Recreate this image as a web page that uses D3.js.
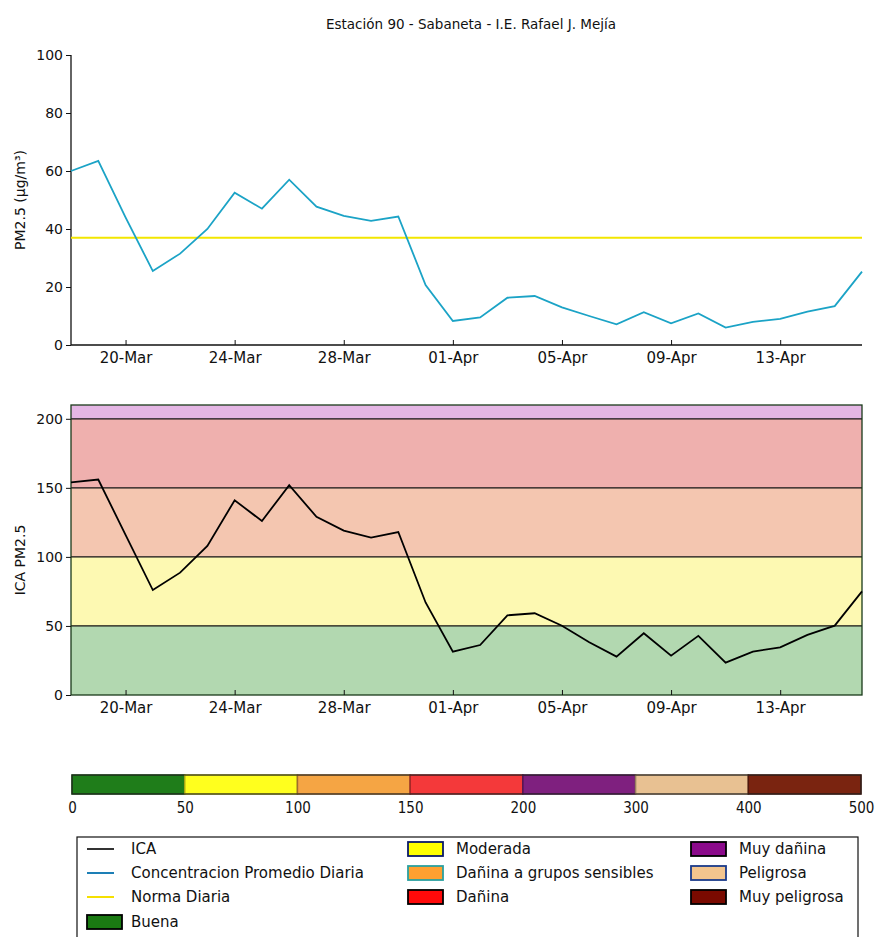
<!DOCTYPE html>
<html>
<head>
<meta charset="utf-8">
<script src="https://cdn.jsdelivr.net/npm/d3@7"></script>
<style>
  body { margin: 0; background: #fff; }
  svg text { font-family: "DejaVu Sans", sans-serif; fill: #111; }
</style>
</head>
<body>
<div id="chart"></div>
<script>
// data
var days = ["2020-03-18","2020-03-19","2020-03-20","2020-03-21","2020-03-22","2020-03-23","2020-03-24",
            "2020-03-25","2020-03-26","2020-03-27","2020-03-28","2020-03-29","2020-03-30","2020-03-31",
            "2020-04-01","2020-04-02","2020-04-03","2020-04-04","2020-04-05","2020-04-06","2020-04-07",
            "2020-04-08","2020-04-09","2020-04-10","2020-04-11","2020-04-12","2020-04-13","2020-04-14",
            "2020-04-15","2020-04-16"];
var pm25 = [60, 63.5, 44, 25.5, 31.5, 40, 52.5, 47, 57, 47.7, 44.5, 42.8, 44.3, 20.7,
            8.3, 9.5, 16.3, 16.9, 13, 10, 7.1, 11.3, 7.5, 10.9, 6, 8, 9, 11.5, 13.4, 25.3];
var ica = [154, 156, 116, 76, 88.6, 108, 141, 126, 152, 129, 119, 114, 118, 67,
           31.4, 36.2, 57.7, 59.2, 50.2, 38.2, 27.8, 44.7, 28.5, 42.8, 23.4, 31.4, 34.5, 43.5, 50.2, 75];
var normaDiaria = 37;
var xTickDays = ["2020-03-20","2020-03-24","2020-03-28","2020-04-01","2020-04-05","2020-04-09","2020-04-13"];
var pmTicks = [0, 20, 40, 60, 80, 100];
var icaTicks = [0, 50, 100, 150, 200];

var bandLimits = [0, 50, 100, 150, 200, 210];
var bandColors = ["#b2d8b0", "#fdf9b2", "#f4c6b0", "#efb0ae", "#e4b6e4"];

var scaleLimits = [0, 50, 100, 150, 200, 300, 400, 500];
var scaleColors = ["#1f7d1a", "#ffff1e", "#f5a544", "#f4393a", "#7f207f", "#e8c192", "#7a2410"];

var legendLines = [
  {label: "ICA", color: "#333"},
  {label: "Concentracion Promedio Diaria", color: "#1d7fb6"},
  {label: "Norma Diaria", color: "#f5e000"}
];
var legendPatches = [
  {label: "Buena", color: "#1a7a12", edge: "#000"},
  {label: "Moderada", color: "#ffff00", edge: "#0a1a6a"},
  {label: "Dañina a grupos sensibles", color: "#ffa030", edge: "#2aa0a0"},
  {label: "Dañina", color: "#ff0a0a", edge: "#000"},
  {label: "Muy dañina", color: "#8b0a8b", edge: "#000"},
  {label: "Peligrosa", color: "#f3c58e", edge: "#1a3a8a"},
  {label: "Muy peligrosa", color: "#7a0a00", edge: "#000"}
];

var width = 878, height = 937;
var svg = d3.select("#chart").append("svg")
    .attr("width", width)
    .attr("height", height);

var parse = d3.timeParse("%Y-%m-%d");
var dates = days.map(parse);

var left = 71, right = 862;
var x = d3.scaleTime().domain(d3.extent(dates)).range([left, right]);
var fmt = d3.timeFormat("%d-%b");

svg.append("text")
    .attr("x", 471).attr("y", 29)
    .attr("text-anchor", "middle")
    .style("font-size", "13.5px")
    .text("Estación 90 - Sabaneta - I.E. Rafael J. Mejía");

function styleAxis(g) {
  g.selectAll("text").style("font-size", "14px").attr("fill", "#111");
  g.selectAll("line").attr("stroke", "#111");
  g.select(".domain").remove();
}

// ---- top panel: concentration
var y1 = d3.scaleLinear().domain([0, 100]).range([345, 55]);

svg.append("g")
    .attr("transform", "translate(" + left + ",0)")
    .call(d3.axisLeft(y1).tickValues(pmTicks).tickSize(5).tickPadding(3))
    .call(styleAxis);
svg.append("g")
    .attr("transform", "translate(0,345)")
    .call(d3.axisBottom(x).tickValues(xTickDays.map(parse)).tickFormat(fmt).tickSizeInner(-5).tickSizeOuter(0).tickPadding(7))
    .call(styleAxis)
    .selectAll("text").style("font-size", "15px");

svg.append("line").attr("x1", left).attr("x2", left).attr("y1", 55).attr("y2", 345)
    .attr("stroke", "#111").attr("stroke-width", 1.3);
svg.append("line").attr("x1", left).attr("x2", right).attr("y1", 345).attr("y2", 345)
    .attr("stroke", "#111").attr("stroke-width", 1.3);

svg.append("line")
    .attr("x1", left).attr("x2", right)
    .attr("y1", y1(normaDiaria)).attr("y2", y1(normaDiaria))
    .attr("stroke", "#f2e600").attr("stroke-width", 2);

svg.append("path")
    .datum(pm25)
    .attr("fill", "none")
    .attr("stroke", "#1ba3c6")
    .attr("stroke-width", 1.8)
    .attr("d", d3.line().x(function(d, i) { return x(dates[i]); }).y(function(d) { return y1(d); }));

svg.append("text")
    .attr("transform", "translate(25,200) rotate(-90)")
    .attr("text-anchor", "middle")
    .style("font-size", "14px")
    .text("PM2.5 (µg/m³)");

// ---- bottom panel: ICA
var y2 = d3.scaleLinear().domain([0, 210]).range([695, 405]);

svg.append("g").selectAll("rect")
    .data(bandColors)
    .enter().append("rect")
    .attr("x", left)
    .attr("width", right - left)
    .attr("y", function(d, i) { return y2(bandLimits[i + 1]); })
    .attr("height", function(d, i) { return y2(bandLimits[i]) - y2(bandLimits[i + 1]); })
    .attr("fill", function(d) { return d; });

svg.append("g").selectAll("line")
    .data(bandLimits.slice(1, 5))
    .enter().append("line")
    .attr("x1", left).attr("x2", right)
    .attr("y1", function(d) { return y2(d); }).attr("y2", function(d) { return y2(d); })
    .attr("stroke", "#111").attr("stroke-width", 1.2);

svg.append("rect")
    .attr("x", left).attr("y", 405).attr("width", right - left).attr("height", 290)
    .attr("fill", "none").attr("stroke", "#1a3a1a").attr("stroke-width", 1.3);

svg.append("path")
    .datum(ica)
    .attr("fill", "none")
    .attr("stroke", "#000")
    .attr("stroke-width", 1.8)
    .attr("d", d3.line().x(function(d, i) { return x(dates[i]); }).y(function(d) { return y2(d); }));

svg.append("g")
    .attr("transform", "translate(" + left + ",0)")
    .call(d3.axisLeft(y2).tickValues(icaTicks).tickSize(5).tickPadding(3))
    .call(styleAxis);
svg.append("g")
    .attr("transform", "translate(0,695)")
    .call(d3.axisBottom(x).tickValues(xTickDays.map(parse)).tickFormat(fmt).tickSizeInner(-5).tickSizeOuter(0).tickPadding(7))
    .call(styleAxis)
    .selectAll("text").style("font-size", "15px");

svg.append("text")
    .attr("transform", "translate(25,560) rotate(-90)")
    .attr("text-anchor", "middle")
    .style("font-size", "14px")
    .text("ICA PM2.5");

// ---- colour scale bar
var cb = d3.scalePoint().domain(scaleLimits).range([72, 861]);
svg.append("g").selectAll("rect")
    .data(scaleColors)
    .enter().append("rect")
    .attr("x", function(d, i) { return cb(scaleLimits[i]); })
    .attr("width", function(d, i) { return cb(scaleLimits[i + 1]) - cb(scaleLimits[i]); })
    .attr("y", 775).attr("height", 19)
    .attr("fill", function(d) { return d; })
    .attr("stroke", function(d) { return d3.color(d).darker(1.2); })
    .attr("stroke-width", 1.5);
svg.append("rect").attr("x", 72).attr("y", 775).attr("width", 789).attr("height", 19)
    .attr("fill", "none").attr("stroke", "#222").attr("stroke-width", 1);
svg.append("g")
    .attr("transform", "translate(0,794)")
    .call(d3.axisBottom(cb).tickSize(0).tickPadding(8))
    .call(styleAxis)
    .selectAll("text").style("font-family", "'DejaVu Sans Condensed', 'DejaVu Sans', sans-serif").style("font-size", "15px");

// ---- legend (matplotlib ncol=3: 4 / 3 / 3 rows)
var legend = svg.append("g");
legend.append("rect")
    .attr("x", 77).attr("y", 837).attr("width", 781).attr("height", 110)
    .attr("fill", "#fff").attr("stroke", "#111").attr("stroke-width", 1.2);

var rowY = [849, 873, 897, 922];
var colX = [{h: 87, t: 131}, {h: 408, t: 456}, {h: 691, t: 739}];
var colStart = [0, 4, 7];
var items = legendLines.map(function(d) { return {type: "line", d: d}; })
    .concat(legendPatches.map(function(d) { return {type: "patch", d: d}; }));

items.forEach(function(it, k) {
  var col = k >= colStart[2] ? 2 : (k >= colStart[1] ? 1 : 0);
  var row = k - colStart[col];
  var c = colX[col], yy = rowY[row];
  if (it.type === "line") {
    legend.append("line")
        .attr("x1", c.h).attr("x2", c.h + 27).attr("y1", yy).attr("y2", yy)
        .attr("stroke", it.d.color).attr("stroke-width", 2);
  } else {
    legend.append("rect")
        .attr("x", c.h).attr("y", yy - 7).attr("width", 35).attr("height", 14)
        .attr("fill", it.d.color).attr("stroke", it.d.edge).attr("stroke-width", 1.8);
  }
  legend.append("text")
      .attr("x", c.t).attr("y", yy).attr("dy", "0.35em")
      .style("font-size", "15px")
      .text(it.d.label);
});
</script>
</body>
</html>
